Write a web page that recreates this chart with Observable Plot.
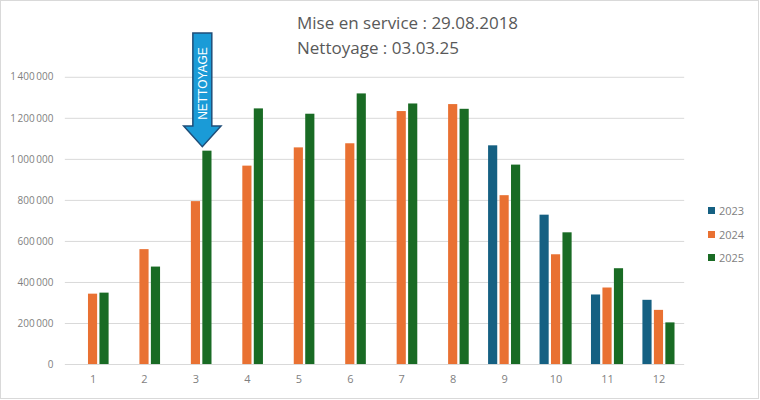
<!DOCTYPE html>
<html>
<head>
<meta charset="utf-8">
<script src="https://cdn.jsdelivr.net/npm/d3@7"></script>
<script src="https://cdn.jsdelivr.net/npm/@observablehq/plot@0.6"></script>
<style>
  body { margin: 0; background: #fff; }
  #wrap { position: relative; width: 759px; height: 399px; box-sizing: border-box; border: 1px solid #d9d9d9; overflow: hidden; font-family: "Open Sans", "Noto Sans", sans-serif; }
  #chart { position: absolute; left: -1px; top: -1px; }
  #title { position: absolute; left: 296px; top: 9px; color: #595959; font-size: 17px; line-height: 25px; }
  #legend { position: absolute; left: 707px; top: 198px; font-size: 11px; color: #7f7f7f; }
  .li { display: flex; align-items: center; height: 23.5px; }
  .sw { width: 7px; height: 7px; margin-right: 4px; }
</style>
</head>
<body>
<div id="wrap">
  <div id="chart"></div>
  <div id="title">Mise en service : 29.08.2018<br>Nettoyage : 03.03.25</div>
  <div id="legend"></div>
</div>
<script>
const months = [1, 2, 3, 4, 5, 6, 7, 8, 9, 10, 11, 12];
const years = ["2023", "2024", "2025"];
const colors = ["#156082", "#E97132", "#196B24"];
const v2023 = [null, null, null, null, null, null, null, null, 1066000, 728000, 339000, 313000];
const v2024 = [343000, 560000, 794000, 967000, 1056000, 1076000, 1233000, 1267000, 823000, 535000, 373000, 264000];
const v2025 = [348000, 475000, 1040000, 1246000, 1220000, 1319000, 1270000, 1244000, 972000, 642000, 467000, 203000];
const yTicks = [0, 200000, 400000, 600000, 800000, 1000000, 1200000, 1400000];
const annotationLabel = "NETTOYAGE";
const annotationMonth = 3;

const series = [v2023, v2024, v2025];
const rows = [];
series.forEach((vals, si) => months.forEach((m, i) => {
  if (vals[i] != null) rows.push({month: m, year: years[si], value: vals[i]});
}));

const fr = d3.formatLocale({decimal: ",", thousands: "\u2009", grouping: [3], currency: ["", " €"]});
const fmt = fr.format(",d");

const slot = 11.5;
const barInset = 21.2;

const chart = Plot.plot({
  width: 760,
  height: 400,
  marginLeft: 67,
  marginRight: 74,
  marginTop: 77,
  marginBottom: 35,
  style: {fontFamily: "'Open Sans', 'Noto Sans', sans-serif", color: "#7f7f7f", background: "transparent"},
  x: {type: "band", domain: months, padding: 0, round: false, label: null},
  y: {domain: [0, 1400000], label: null},
  marks: [
    Plot.ruleY(yTicks, {stroke: "#d9d9d9", strokeWidth: 1, insetLeft: -2}),
    ...years.map((yr, si) => Plot.barY(rows.filter(d => d.year === yr), {
      x: "month", y: "value", fill: colors[si],
      dx: (si - 1) * slot, insetLeft: barInset, insetRight: barInset
    })),
    Plot.axisY(yTicks, {tickSize: 0, tickPadding: 14, tickFormat: fmt, fontSize: 10, fill: "#7f7f7f", label: null}),
    Plot.axisX({tickSize: 0, tickPadding: 11, fontSize: 11, fill: "#7f7f7f", label: null})
  ]
});
document.getElementById("chart").appendChild(chart);

// Annotation arrow pointing at the 2025 bar of the cleaning month
const xs = chart.scale("x");
const ys = chart.scale("y");
const cx = xs.apply(annotationMonth) + xs.bandwidth / 2 + slot - 4.6;
const tipY = ys.apply(v2025[annotationMonth - 1]) - 4;
const topY = ys.apply(1400000) - 44;
const headY = tipY - 20.6;
const sw = 9.5, hw = 18.7;
const svg = d3.select(chart);
svg.append("path")
  .attr("d", `M${cx - sw},${topY} L${cx + sw},${topY} L${cx + sw},${headY} L${cx + hw},${headY} L${cx},${tipY} L${cx - hw},${headY} L${cx - sw},${headY} Z`)
  .attr("fill", "#1a9bd7")
  .attr("stroke", "#1f4e79")
  .attr("stroke-width", 1.5)
  .attr("stroke-linejoin", "miter");
const ty = (topY + headY) / 2 + 4;
svg.append("text")
  .attr("transform", `translate(${cx + 4.5},${ty}) rotate(-90)`)
  .attr("text-anchor", "middle")
  .attr("fill", "#ffffff")
  .attr("font-size", 12)
  .attr("font-family", "'Liberation Sans', Arial, sans-serif")
  .text(annotationLabel);

// Legend
const legend = document.getElementById("legend");
years.forEach((yr, i) => {
  const row = document.createElement("div");
  row.className = "li";
  row.innerHTML = `<span class="sw" style="background:${colors[i]}"></span><span>${yr}</span>`;
  legend.appendChild(row);
});
</script>
</body>
</html>
